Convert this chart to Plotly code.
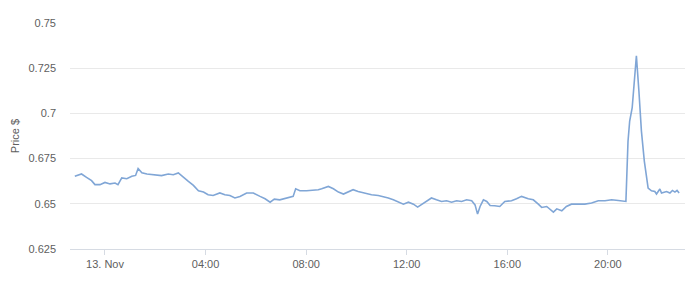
import plotly.graph_objects as go

times = [
    "2017-11-12 22:48", "2017-11-12 23:04", "2017-11-12 23:16", "2017-11-12 23:28",
    "2017-11-12 23:36", "2017-11-12 23:48",
    "2017-11-13 00:00", "2017-11-13 00:12", "2017-11-13 00:24", "2017-11-13 00:31",
    "2017-11-13 00:40", "2017-11-13 00:52", "2017-11-13 01:04", "2017-11-13 01:13",
    "2017-11-13 01:19", "2017-11-13 01:28", "2017-11-13 01:40", "2017-11-13 01:55",
    "2017-11-13 02:15", "2017-11-13 02:31", "2017-11-13 02:43", "2017-11-13 02:55",
    "2017-11-13 03:07", "2017-11-13 03:19", "2017-11-13 03:31", "2017-11-13 03:43",
    "2017-11-13 03:55", "2017-11-13 04:06", "2017-11-13 04:18", "2017-11-13 04:30",
    "2017-11-13 04:34", "2017-11-13 04:46", "2017-11-13 04:58", "2017-11-13 05:10",
    "2017-11-13 05:22", "2017-11-13 05:38", "2017-11-13 05:54", "2017-11-13 06:10",
    "2017-11-13 06:22", "2017-11-13 06:34", "2017-11-13 06:44", "2017-11-13 06:57",
    "2017-11-13 07:13", "2017-11-13 07:29", "2017-11-13 07:35", "2017-11-13 07:45",
    "2017-11-13 08:01", "2017-11-13 08:17", "2017-11-13 08:29", "2017-11-13 08:37",
    "2017-11-13 08:53", "2017-11-13 09:05", "2017-11-13 09:17", "2017-11-13 09:29",
    "2017-11-13 09:40", "2017-11-13 09:52", "2017-11-13 10:04", "2017-11-13 10:16",
    "2017-11-13 10:36", "2017-11-13 10:52", "2017-11-13 11:04", "2017-11-13 11:16",
    "2017-11-13 11:28", "2017-11-13 11:40", "2017-11-13 11:52", "2017-11-13 12:04",
    "2017-11-13 12:16", "2017-11-13 12:26", "2017-11-13 12:36", "2017-11-13 12:48",
    "2017-11-13 12:59", "2017-11-13 13:11", "2017-11-13 13:23", "2017-11-13 13:35",
    "2017-11-13 13:47", "2017-11-13 13:59", "2017-11-13 14:11", "2017-11-13 14:23",
    "2017-11-13 14:35", "2017-11-13 14:43", "2017-11-13 14:49", "2017-11-13 14:55",
    "2017-11-13 15:03", "2017-11-13 15:11", "2017-11-13 15:19", "2017-11-13 15:30",
    "2017-11-13 15:42", "2017-11-13 15:54", "2017-11-13 16:10", "2017-11-13 16:22",
    "2017-11-13 16:34", "2017-11-13 16:50", "2017-11-13 17:02", "2017-11-13 17:14",
    "2017-11-13 17:22", "2017-11-13 17:34", "2017-11-13 17:50", "2017-11-13 17:58",
    "2017-11-13 18:10", "2017-11-13 18:21", "2017-11-13 18:33", "2017-11-13 18:49",
    "2017-11-13 19:05", "2017-11-13 19:21", "2017-11-13 19:37", "2017-11-13 19:53",
    "2017-11-13 20:09", "2017-11-13 20:25", "2017-11-13 20:37", "2017-11-13 20:43",
    "2017-11-13 20:48", "2017-11-13 20:52", "2017-11-13 20:58", "2017-11-13 21:03",
    "2017-11-13 21:08", "2017-11-13 21:14", "2017-11-13 21:20", "2017-11-13 21:27",
    "2017-11-13 21:31", "2017-11-13 21:36", "2017-11-13 21:44", "2017-11-13 21:52",
    "2017-11-13 21:56", "2017-11-13 22:04", "2017-11-13 22:08", "2017-11-13 22:20",
    "2017-11-13 22:28", "2017-11-13 22:34", "2017-11-13 22:40", "2017-11-13 22:45",
    "2017-11-13 22:50",
]

prices = [
    0.6652, 0.6665, 0.6646, 0.6628,
    0.6606, 0.6606,
    0.6618, 0.6610, 0.6615, 0.6606,
    0.6643, 0.6639, 0.6652, 0.6657,
    0.6695, 0.6671, 0.6665, 0.6661,
    0.6656, 0.6665, 0.6661, 0.6671,
    0.6646, 0.6624, 0.6602, 0.6572,
    0.6565, 0.6550, 0.6546, 0.6554,
    0.6560, 0.6550, 0.6546, 0.6532,
    0.6541, 0.6560, 0.6560, 0.6541,
    0.6528, 0.6509, 0.6526, 0.6522,
    0.6532, 0.6541, 0.6583, 0.6572,
    0.6572, 0.6574, 0.6578, 0.6583,
    0.6596, 0.6583, 0.6565, 0.6554,
    0.6565, 0.6578, 0.6568, 0.6560,
    0.6550, 0.6546, 0.6541, 0.6532,
    0.6522, 0.6509, 0.6498, 0.6509,
    0.6498, 0.6482, 0.6498, 0.6517,
    0.6532, 0.6522, 0.6513, 0.6517,
    0.6509, 0.6517, 0.6513, 0.6522,
    0.6517, 0.6494, 0.6443, 0.6485,
    0.6522, 0.6513, 0.6491, 0.6489,
    0.6485, 0.6513, 0.6517, 0.6528,
    0.6541, 0.6528, 0.6522, 0.6498,
    0.6480, 0.6485, 0.6454, 0.6472,
    0.6461, 0.6485, 0.6498, 0.6498,
    0.6498, 0.6504, 0.6517, 0.6517,
    0.6522, 0.6518, 0.6513, 0.6513,
    0.6846, 0.6958, 0.7032, 0.7180,
    0.7319, 0.7124, 0.6902, 0.6735,
    0.6680, 0.6587, 0.6572, 0.6568,
    0.6554, 0.6582, 0.6560, 0.6568,
    0.6560, 0.6574, 0.6565, 0.6574,
    0.6560,
]

x_tick_vals = ["2017-11-13 00:00", "2017-11-13 04:00", "2017-11-13 08:00",
               "2017-11-13 12:00", "2017-11-13 16:00", "2017-11-13 20:00"]
x_tick_text = ["13. Nov", "04:00", "08:00", "12:00", "16:00", "20:00"]
y_tick_vals = [0.625, 0.65, 0.675, 0.7, 0.725, 0.75]
y_tick_text = ["0.625", "0.65", "0.675", "0.7", "0.725", "0.75"]

fig = go.Figure()
fig.add_trace(go.Scatter(
    x=times, y=prices, mode="lines",
    line=dict(color="#80a6d6", width=1.6),
    showlegend=False,
))

font_family = "Liberation Sans, Arial, sans-serif"
fig.update_layout(
    width=700, height=284,
    margin=dict(l=70, r=15, t=23, b=35),
    paper_bgcolor="white", plot_bgcolor="white",
    font=dict(family=font_family, size=11, color="#606060"),
    xaxis=dict(
        range=["2017-11-12 22:36:30", "2017-11-13 23:04"],
        tickvals=x_tick_vals, ticktext=x_tick_text,
        showgrid=False, zeroline=False,
        showline=True, linecolor="#d6dbe3", linewidth=1,
        ticks="outside", ticklen=5, tickcolor="#d6dbe3", tickwidth=1,
        tickfont=dict(size=11, color="#606060"),
    ),
    yaxis=dict(
        range=[0.625, 0.75],
        tickvals=y_tick_vals, ticktext=y_tick_text,
        showgrid=True, gridcolor="#e9e9e9", gridwidth=1,
        zeroline=False, showline=False,
        ticks="", ticklabelstandoff=13,
        tickfont=dict(size=11, color="#606060"),
        title=dict(text="Price $", font=dict(size=11, color="#606060"), standoff=6),
    ),
)

fig.write_html("out.html")
